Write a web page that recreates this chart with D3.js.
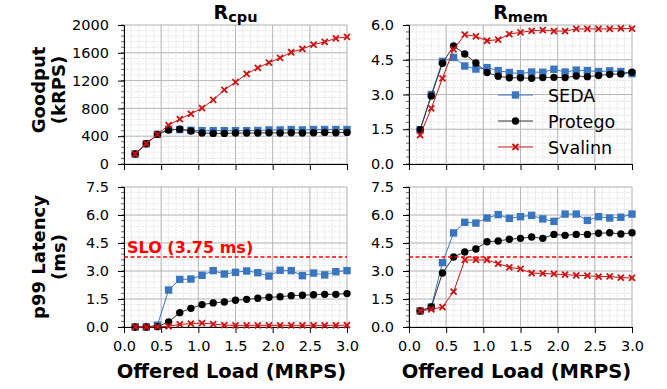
<!DOCTYPE html>
<html>
<head>
<meta charset="utf-8">
<script src="https://cdn.jsdelivr.net/npm/d3@7"></script>
<style>
  body { margin: 0; background: #fff; }
  text { font-family: "DejaVu Sans", sans-serif; }
</style>
</head>
<body>
<div id="chart"></div>
<script>
// offered load, 0.15 .. 3.0 MRPS
var load = [0.15, 0.3, 0.45, 0.6, 0.75, 0.9, 1.05, 1.2, 1.35, 1.5,
            1.65, 1.8, 1.95, 2.1, 2.25, 2.4, 2.55, 2.7, 2.85, 3.0];

var systems = ["SEDA", "Protego", "Svalinn"];

// goodput (kRPS), R_cpu
var cpuGoodSeda    = [144, 292, 426, 500, 495, 485, 480, 480, 480, 480, 480, 482, 490, 490, 495, 490, 495, 495, 495, 495];
var cpuGoodProtego = [144, 292, 426, 490, 500, 475, 445, 440, 440, 445, 445, 445, 450, 445, 450, 445, 450, 455, 450, 455];
var cpuGoodSvalinn = [144, 292, 426, 560, 646, 722, 804, 923, 1067, 1177, 1297, 1383, 1459, 1526, 1608, 1656, 1718, 1756, 1809, 1828];

// goodput, R_mem
var memGoodSeda    = [1.48, 3.0, 4.43, 4.6, 4.23, 4.1, 4.16, 4.03, 3.95, 3.9, 3.97, 3.96, 4.09, 3.97, 4.05, 4.03, 3.99, 4.02, 3.99, 3.9];
var memGoodProtego = [1.48, 2.94, 4.35, 5.1, 4.75, 4.36, 3.95, 3.79, 3.72, 3.72, 3.7, 3.73, 3.74, 3.73, 3.8, 3.77, 3.82, 3.87, 3.89, 3.96];
var memGoodSvalinn = [1.25, 2.4, 3.7, 4.95, 5.58, 5.51, 5.32, 5.37, 5.61, 5.68, 5.75, 5.78, 5.74, 5.74, 5.83, 5.83, 5.83, 5.83, 5.85, 5.84];

// p99 latency (ms), R_cpu
var cpuLatSeda    = [0, 0, 0.1, 1.98, 2.55, 2.57, 2.77, 3.02, 2.84, 2.93, 3.0, 2.91, 2.73, 3.04, 3.02, 2.75, 2.89, 2.79, 2.96, 3.02];
var cpuLatProtego = [0, 0, 0.02, 0.27, 0.77, 1.0, 1.2, 1.29, 1.34, 1.43, 1.48, 1.54, 1.59, 1.62, 1.68, 1.7, 1.73, 1.75, 1.75, 1.79];
var cpuLatSvalinn = [0, 0, 0.02, 0.04, 0.14, 0.18, 0.21, 0.16, 0.1, 0.09, 0.09, 0.09, 0.09, 0.09, 0.09, 0.09, 0.09, 0.09, 0.09, 0.1];

// p99 latency (ms), R_mem
var memLatSeda    = [0.86, 1.07, 3.45, 5.04, 5.61, 5.57, 5.84, 6.02, 5.82, 5.91, 5.98, 5.79, 5.66, 6.05, 6.05, 5.71, 5.91, 5.84, 5.88, 6.05];
var memLatProtego = [0.86, 1.07, 2.89, 3.75, 4.02, 4.18, 4.57, 4.61, 4.7, 4.75, 4.82, 4.75, 4.96, 4.91, 4.96, 4.96, 5.02, 5.05, 4.98, 5.05];
var memLatSvalinn = [0.86, 0.95, 1.07, 1.89, 3.59, 3.59, 3.59, 3.39, 3.2, 3.11, 2.89, 2.87, 2.84, 2.8, 2.77, 2.75, 2.7, 2.71, 2.64, 2.63];

var slo = 3.75;

var xTicks = [0, 0.5, 1.0, 1.5, 2.0, 2.5, 3.0];
var cpuGoodTicks = [0, 400, 800, 1200, 1600, 2000];
var memGoodTicks = [0, 1.5, 3.0, 4.5, 6.0];
var latTicks = [0, 1.5, 3.0, 4.5, 6.0, 7.5];

var colors = { SEDA: "#3a76c0", Protego: "#000000", Svalinn: "#cc1111" };
var lineColors = { SEDA: "#3a76c0", Protego: "#333333", Svalinn: "#cc1111" };

var svgWidth = 667, svgHeight = 389;

var svg = d3.select("#chart").append("svg")
  .attr("width", svgWidth)
  .attr("height", svgHeight);

var cols = [124, 409];
var panelW = 223;
var rows = [{ top: 25, bottom: 164 }, { top: 187, bottom: 327 }];

// draw one panel
function drawPanel(px, row, yMax, yTicks, yFmt, series, showX) {
  var g = svg.append("g");
  var x = d3.scaleLinear().domain([0, 3.0]).range([px, px + panelW]);
  var y = d3.scaleLinear().domain([0, yMax]).range([row.bottom, row.top]);

  // minor grid
  var xMinor = d3.range(0, 3.0001, 0.1);
  var yStep = yTicks[1] - yTicks[0];
  var yMinor = d3.range(0, yMax + 1e-6, yStep / 5);
  g.selectAll(".xminor").data(xMinor).enter().append("line")
    .attr("x1", d => x(d)).attr("x2", d => x(d))
    .attr("y1", row.top).attr("y2", row.bottom)
    .attr("stroke", "#e0e0e0").attr("stroke-width", 0.8).attr("stroke-dasharray", "2,1");
  g.selectAll(".yminor").data(yMinor).enter().append("line")
    .attr("x1", px).attr("x2", px + panelW)
    .attr("y1", d => y(d)).attr("y2", d => y(d))
    .attr("stroke", "#e0e0e0").attr("stroke-width", 0.8).attr("stroke-dasharray", "2,1");

  // major grid
  g.selectAll(".xmajor").data(xTicks).enter().append("line")
    .attr("x1", d => x(d)).attr("x2", d => x(d))
    .attr("y1", row.top).attr("y2", row.bottom)
    .attr("stroke", "#b8b8b8").attr("stroke-width", 1);
  g.selectAll(".ymajor").data(yTicks).enter().append("line")
    .attr("x1", px).attr("x2", px + panelW)
    .attr("y1", d => y(d)).attr("y2", d => y(d))
    .attr("stroke", "#b8b8b8").attr("stroke-width", 1);

  // axes
  var xAxis = d3.axisBottom(x).tickValues(xTicks).tickSize(6).tickPadding(8)
    .tickFormat(showX ? d3.format(".1f") : "");
  var xa = g.append("g").attr("transform", `translate(0,${row.bottom})`).call(xAxis);
  var yAxis = d3.axisLeft(y).tickValues(yTicks).tickSize(6).tickPadding(9).tickFormat(yFmt);
  var ya = g.append("g").attr("transform", `translate(${px},0)`).call(yAxis);
  ya.append("g").selectAll("line").data(yMinor).enter().append("line")
    .attr("x1", -3).attr("x2", 0).attr("y1", d => y(d)).attr("y2", d => y(d))
    .attr("stroke", "#000").attr("stroke-width", 0.6);
  [xa, ya].forEach(function(a) {
    a.selectAll("text").attr("font-size", 14.5).attr("fill", "#000")
      .style("font-family", "'DejaVu Sans', sans-serif");
    a.select(".domain").attr("stroke", "#000").attr("stroke-width", 1);
    a.selectAll(".tick line").attr("stroke", "#000");
  });

  // lines + markers
  series.forEach(function(s) {
    var pts = load.map((d, i) => [d, s.values[i]]);
    var line = d3.line().x(d => x(d[0])).y(d => y(d[1]));
    g.append("path").datum(pts)
      .attr("fill", "none")
      .attr("stroke", lineColors[s.name])
      .attr("stroke-width", 1)
      .attr("d", line);
    drawMarkers(g, pts.map(d => [x(d[0]), y(d[1])]), s.name);
  });

  return { x: x, y: y, g: g };
}

function drawMarkers(g, pts, name) {
  var c = colors[name];
  if (name === "SEDA") {
    g.selectAll(null).data(pts).enter().append("rect")
      .attr("x", d => d[0] - 3.7).attr("y", d => d[1] - 3.7)
      .attr("width", 7.4).attr("height", 7.4).attr("fill", c);
  } else if (name === "Protego") {
    g.selectAll(null).data(pts).enter().append("circle")
      .attr("cx", d => d[0]).attr("cy", d => d[1]).attr("r", 3.7).attr("fill", c);
  } else {
    g.selectAll(null).data(pts).enter().append("path")
      .attr("d", d => `M${d[0]-3},${d[1]-3}L${d[0]+3},${d[1]+3}M${d[0]-3},${d[1]+3}L${d[0]+3},${d[1]-3}`)
      .attr("stroke", c).attr("stroke-width", 1.8).attr("fill", "none");
  }
}

var fmt0 = d3.format("d");
var fmt1 = d3.format(".1f");

drawPanel(cols[0], rows[0], 2000, cpuGoodTicks, fmt0, [
  { name: "SEDA", values: cpuGoodSeda },
  { name: "Protego", values: cpuGoodProtego },
  { name: "Svalinn", values: cpuGoodSvalinn }
], false);

drawPanel(cols[1], rows[0], 6.0, memGoodTicks, fmt1, [
  { name: "SEDA", values: memGoodSeda },
  { name: "Protego", values: memGoodProtego },
  { name: "Svalinn", values: memGoodSvalinn }
], false);

var latL = drawPanel(cols[0], rows[1], 7.5, latTicks, fmt1, [
  { name: "SEDA", values: cpuLatSeda },
  { name: "Protego", values: cpuLatProtego },
  { name: "Svalinn", values: cpuLatSvalinn }
], true);

var latR = drawPanel(cols[1], rows[1], 7.5, latTicks, fmt1, [
  { name: "SEDA", values: memLatSeda },
  { name: "Protego", values: memLatProtego },
  { name: "Svalinn", values: memLatSvalinn }
], true);

// SLO lines
[latL, latR].forEach(function(p) {
  p.g.append("line")
    .attr("x1", p.x(0)).attr("x2", p.x(3.0))
    .attr("y1", p.y(slo)).attr("y2", p.y(slo))
    .attr("stroke", "#ff0000").attr("stroke-width", 1.3)
    .attr("stroke-dasharray", "4,2.5");
});
latL.g.append("text")
  .attr("x", latL.x(0) + 3).attr("y", latL.y(slo) - 4)
  .attr("font-size", 16).attr("font-weight", "bold").attr("fill", "#ff0000")
  .text("SLO (3.75 ms)");

// legend
var legend = svg.append("g").attr("transform", "translate(498,95)");
systems.forEach(function(name, i) {
  var ly = i * 26;
  legend.append("line").attr("x1", 0).attr("x2", 35).attr("y1", ly).attr("y2", ly)
    .attr("stroke", lineColors[name]).attr("stroke-width", 1);
  drawMarkers(legend, [[17.5, ly]], name);
  legend.append("text").attr("x", 50).attr("y", ly + 6.5)
    .attr("font-size", 17.5).attr("fill", "#000").text(name);
});

// titles
[["cpu", cols[0]], ["mem", cols[1]]].forEach(function(t) {
  var txt = svg.append("text")
    .attr("x", t[1] + panelW / 2).attr("y", 19)
    .attr("text-anchor", "middle").attr("font-size", 19).attr("font-weight", "bold");
  txt.append("tspan").text("R");
  txt.append("tspan").attr("font-size", 14.5).attr("dy", 3).text(t[0]);
});

// y labels
function yLabel(cy, l1, l2) {
  var g = svg.append("g").attr("transform", `translate(45,${cy}) rotate(-90)`);
  g.append("text").attr("text-anchor", "middle").attr("font-size", 18)
    .attr("font-weight", "bold").attr("y", 0).text(l1);
  g.append("text").attr("text-anchor", "middle").attr("font-size", 18)
    .attr("font-weight", "bold").attr("y", 20).text(l2);
}
yLabel(90, "Goodput", "(kRPS)");
yLabel(257, "p99 Latency", "(ms)");

// x labels
cols.forEach(function(c) {
  svg.append("text")
    .attr("x", c + panelW / 2 - 4).attr("y", 378)
    .attr("text-anchor", "middle").attr("font-size", 19.5).attr("font-weight", "bold")
    .text("Offered Load (MRPS)");
});
</script>
</body>
</html>
